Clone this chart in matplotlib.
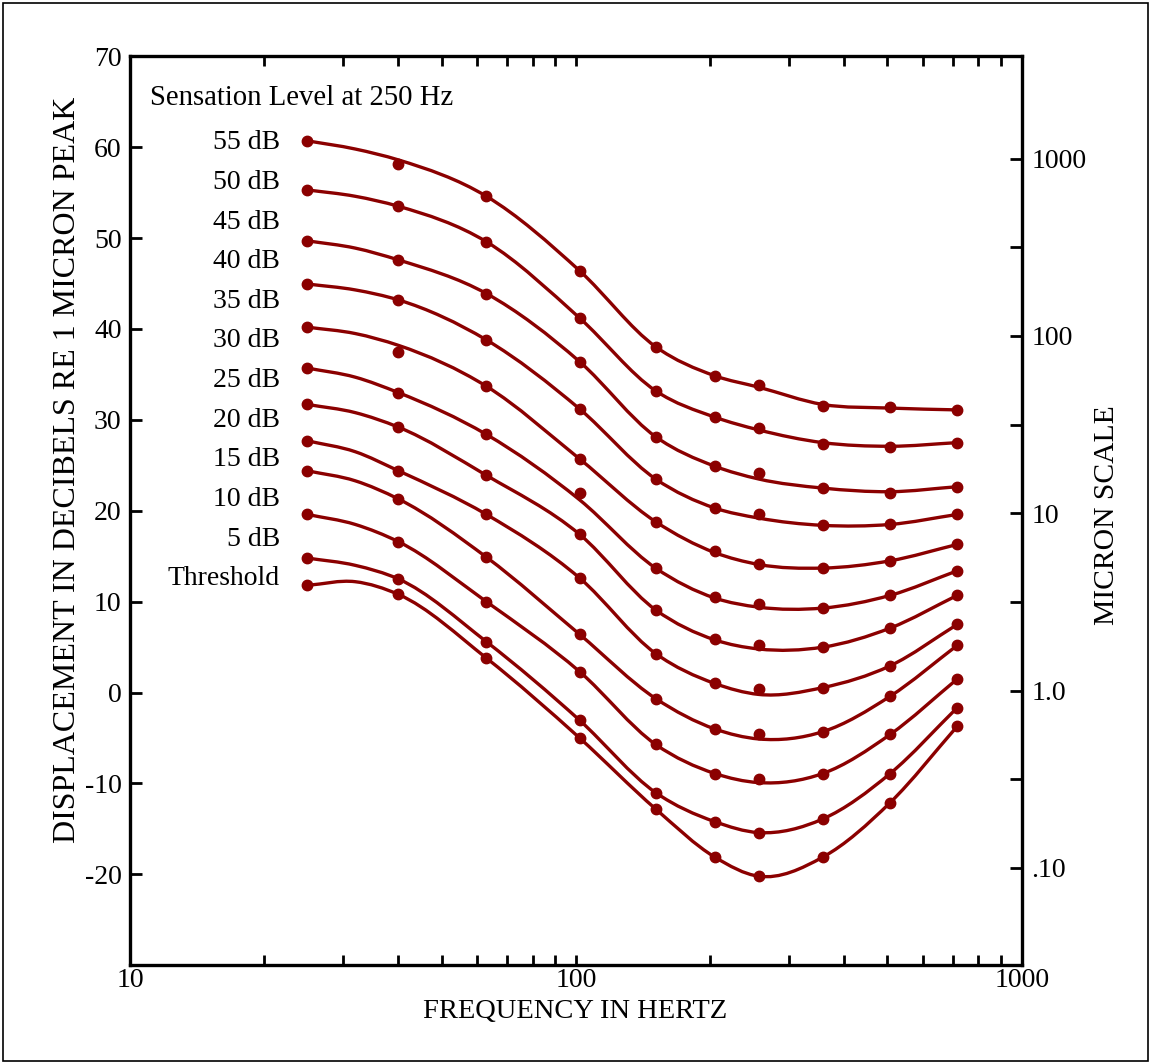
import matplotlib

matplotlib.use("Agg")
import matplotlib.pyplot as plt
import numpy as np
from matplotlib.patches import PathPatch, Rectangle
from matplotlib.path import Path
from matplotlib.ticker import FixedLocator, NullFormatter


# Chart data
DOT_FREQS = [25, 40, 63, 102, 151, 205, 257, 358, 507, 717]
LINE_FREQS = [25, 32, 40, 63, 102, 151, 205, 257, 358, 507, 717]
CURVE_LABELS = [
    "55 dB", "50 dB", "45 dB", "40 dB", "35 dB", "30 dB",
    "25 dB", "20 dB", "15 dB", "10 dB", "5 dB", "Threshold",
]

# measured points, one row per curve (top curve first)
DOT_LEVELS = [
    [60.7, 58.2, 54.6, 46.4, 38.05, 34.85, 33.8, 31.5, 31.4, 31.1],
    [55.3, 53.5, 49.6, 41.2, 33.2, 30.3, 29.1, 27.4, 27.05, 27.5],
    [49.7, 47.6, 43.9, 36.4, 28.15, 24.9, 24.2, 22.5, 22.0, 22.65],
    [44.95, 43.2, 38.8, 31.2, 23.5, 20.3, 19.6, 18.4, 18.5, 19.6],
    [40.2, 37.5, 33.7, 25.7, 18.8, 15.6, 14.2, 13.7, 14.5, 16.3],
    [35.7, 33.0, 28.4, 22.0, 13.7, 10.5, 9.8, 9.3, 10.7, 13.4],
    [31.7, 29.2, 23.9, 17.4, 9.1, 5.9, 5.2, 5.0, 7.1, 10.7],
    [27.7, 24.4, 19.6, 12.6, 4.3, 1.05, 0.4, 0.55, 2.95, 7.5],
    [24.4, 21.3, 14.9, 6.4, -0.65, -4.0, -4.6, -4.3, -0.4, 5.2],
    [19.6, 16.6, 10.0, 2.3, -5.7, -8.9, -9.5, -8.9, -4.6, 1.5],
    [14.8, 12.5, 5.6, -3.05, -11.0, -14.2, -15.4, -13.9, -8.9, -1.65],
    [11.8, 10.8, 3.8, -5.0, -12.8, -18.1, -20.2, -18.1, -12.1, -3.7],
]

# where the drawn (fitted) curves pass, same row order
LINE_LEVELS = [
    [60.7, 59.8, 58.6, 54.6, 46.4, 38.05, 34.85, 33.6, 31.7, 31.3, 31.1],
    [55.3, 54.6, 53.5, 49.6, 41.2, 33.2, 30.3, 28.9, 27.5, 27.1, 27.5],
    [49.7, 48.9, 47.6, 43.9, 36.4, 28.15, 24.9, 23.5, 22.5, 22.1, 22.65],
    [44.95, 44.3, 43.2, 38.8, 31.2, 23.5, 20.3, 19.2, 18.4, 18.5, 19.6],
    [40.2, 39.5, 38.2, 33.7, 25.7, 18.8, 15.4, 14.1, 13.7, 14.5, 16.3],
    [35.7, 34.7, 33.0, 28.4, 21.2, 13.7, 10.4, 9.4, 9.3, 10.7, 13.4],
    [31.7, 30.8, 29.2, 23.9, 17.4, 9.1, 5.8, 4.8, 5.0, 7.1, 10.7],
    [27.7, 26.5, 24.4, 19.6, 12.6, 4.3, 1.0, -0.2, 0.55, 2.95, 7.5],
    [24.4, 23.3, 21.3, 14.9, 6.4, -0.65, -4.0, -5.1, -4.3, -0.4, 5.2],
    [19.6, 18.5, 16.6, 10.0, 2.3, -5.7, -8.9, -9.9, -8.9, -4.6, 1.5],
    [14.8, 14.0, 12.5, 5.6, -3.05, -11.0, -14.2, -15.4, -13.9, -8.9, -1.65],
    [11.8, 12.2, 10.8, 3.8, -5.0, -12.8, -18.1, -20.2, -18.1, -12.1, -3.7],
]

DB_TICKS = [70, 60, 50, 40, 30, 20, 10, 0, -10, -20, -30]
DB_TICK_LABELS = ["70", "60", "50", "40", "30", "20", "10", "0", "-10", "-20", ""]
FREQ_TICKS = [10, 100, 1000]
FREQ_TICK_LABELS = ["10", "100", "1000"]
FREQ_MINOR = [20, 30, 40, 50, 60, 70, 80, 90, 200, 300, 400, 500, 600, 700, 800, 900]
MICRON_TICKS = [1000, 100, 10, 1, 0.1]
MICRON_TICK_LABELS = ["1000", "100", "10", "1.0", ".10"]
MICRON_MINOR = [10**2.5, 10**1.5, 10**0.5, 10**-0.5]

# the micron scale in the original is drawn slightly off 20 dB/decade
MICRON_DB_PER_DECADE = 19.5
MICRON_DB_OFFSET = 0.23

CURVE_COLOR = "#8b0000"
FONT = ["Liberation Serif", "DejaVu Serif"]
FONT_SIZE = 20


def smooth_curve_path(freqs, levels):
    """Build a smooth Bezier path through the knots (cubic Hermite in log-frequency)."""
    x = np.log10(np.asarray(freqs, dtype=float))
    y = np.asarray(levels, dtype=float)
    h = np.diff(x)
    d = np.diff(y) / h

    # three-point parabola slope at inner knots, one-sided slope at the ends
    slopes = np.empty_like(y)
    slopes[0] = d[0]
    slopes[-1] = d[-1]
    slopes[1:-1] = (h[1:] * d[:-1] + h[:-1] * d[1:]) / (h[:-1] + h[1:])

    verts = [(x[0], y[0])]
    codes = [Path.MOVETO]
    for i in range(len(x) - 1):
        step = h[i] / 3
        verts.append((x[i] + step, y[i] + slopes[i] * step))
        verts.append((x[i + 1] - step, y[i + 1] - slopes[i + 1] * step))
        verts.append((x[i + 1], y[i + 1]))
        codes += [Path.CURVE4] * 3

    verts = np.array(verts)
    verts[:, 0] = 10 ** verts[:, 0]
    return Path(verts, codes)


def db_to_micron(db):
    return 10 ** ((db - MICRON_DB_OFFSET) / MICRON_DB_PER_DECADE)


def main() -> None:
    plt.rcParams["font.family"] = FONT

    fig = plt.figure(figsize=(11.51, 10.64), dpi=100)
    ax = fig.add_axes([130 / 1151, 1 - 965.3 / 1064, 891.7 / 1151, 909 / 1064])

    ax.set_xscale("log")
    ax.set_xlim(10, 1000)
    ax.set_ylim(-30, 70)

    for line_levels, dot_levels in zip(LINE_LEVELS, DOT_LEVELS):
        path = smooth_curve_path(LINE_FREQS, line_levels)
        ax.add_patch(PathPatch(path, fill=False, edgecolor=CURVE_COLOR, linewidth=2.4,
                               capstyle="round", joinstyle="round"))
        ax.plot(DOT_FREQS, dot_levels, linestyle="none", marker="o", markersize=7.5,
                color=CURVE_COLOR)

    # curve labels stacked down the left side
    label_top_db = 59.77
    label_step_db = 4.36
    for i, label in enumerate(CURVE_LABELS):
        ax.text(21.7, label_top_db - i * label_step_db, label, ha="right", va="baseline",
                fontsize=FONT_SIZE)
    ax.text(11.1, 64.6, "Sensation Level at 250 Hz", ha="left", va="baseline",
            fontsize=20.7)

    # axes styling
    for spine in ax.spines.values():
        spine.set_linewidth(2.4)

    ax.set_yticks(DB_TICKS, DB_TICK_LABELS)
    ax.set_xticks(FREQ_TICKS, FREQ_TICK_LABELS)
    ax.xaxis.set_minor_locator(FixedLocator(FREQ_MINOR))
    ax.xaxis.set_minor_formatter(NullFormatter())
    ax.tick_params(axis="x", which="both", direction="in", length=7.5, width=2,
                   top=True, labelsize=20, pad=2)
    ax.tick_params(axis="y", which="both", direction="in", length=8.5, width=2,
                   right=False, labelsize=FONT_SIZE, pad=6)

    ax2 = ax.twinx()
    ax2.set_yscale("log")
    ax2.set_ylim(db_to_micron(-30), db_to_micron(70))
    ax2.yaxis.set_major_locator(FixedLocator(MICRON_TICKS))
    ax2.set_yticklabels(MICRON_TICK_LABELS)
    ax2.yaxis.set_minor_locator(FixedLocator(MICRON_MINOR))
    ax2.yaxis.set_minor_formatter(NullFormatter())
    ax2.tick_params(axis="y", which="both", direction="in", length=8.5, width=2,
                    labelsize=FONT_SIZE, pad=7)
    for spine in ax2.spines.values():
        spine.set_visible(False)

    fig.text(575 / 1151, 1 - 999 / 1064, "FREQUENCY IN HERTZ", ha="center", va="top",
             fontsize=20.5)
    fig.text(68 / 1151, 1 - 470 / 1064, "DISPLACEMENT IN DECIBELS RE 1 MICRON PEAK",
             rotation=90, ha="center", va="center", fontsize=23)
    fig.text(1107 / 1151, 1 - 515 / 1064, "MICRON SCALE", rotation=90, ha="center",
             va="center", fontsize=21.3)

    # thin frame round the whole picture
    fig.patches.append(Rectangle((3 / 1151, 3 / 1064), 1 - 6 / 1151, 1 - 6 / 1064,
                                 transform=fig.transFigure, fill=False,
                                 edgecolor="black", linewidth=1.2))

    fig.savefig("out.png", dpi=100)
    plt.close(fig)


if __name__ == "__main__":
    main()
